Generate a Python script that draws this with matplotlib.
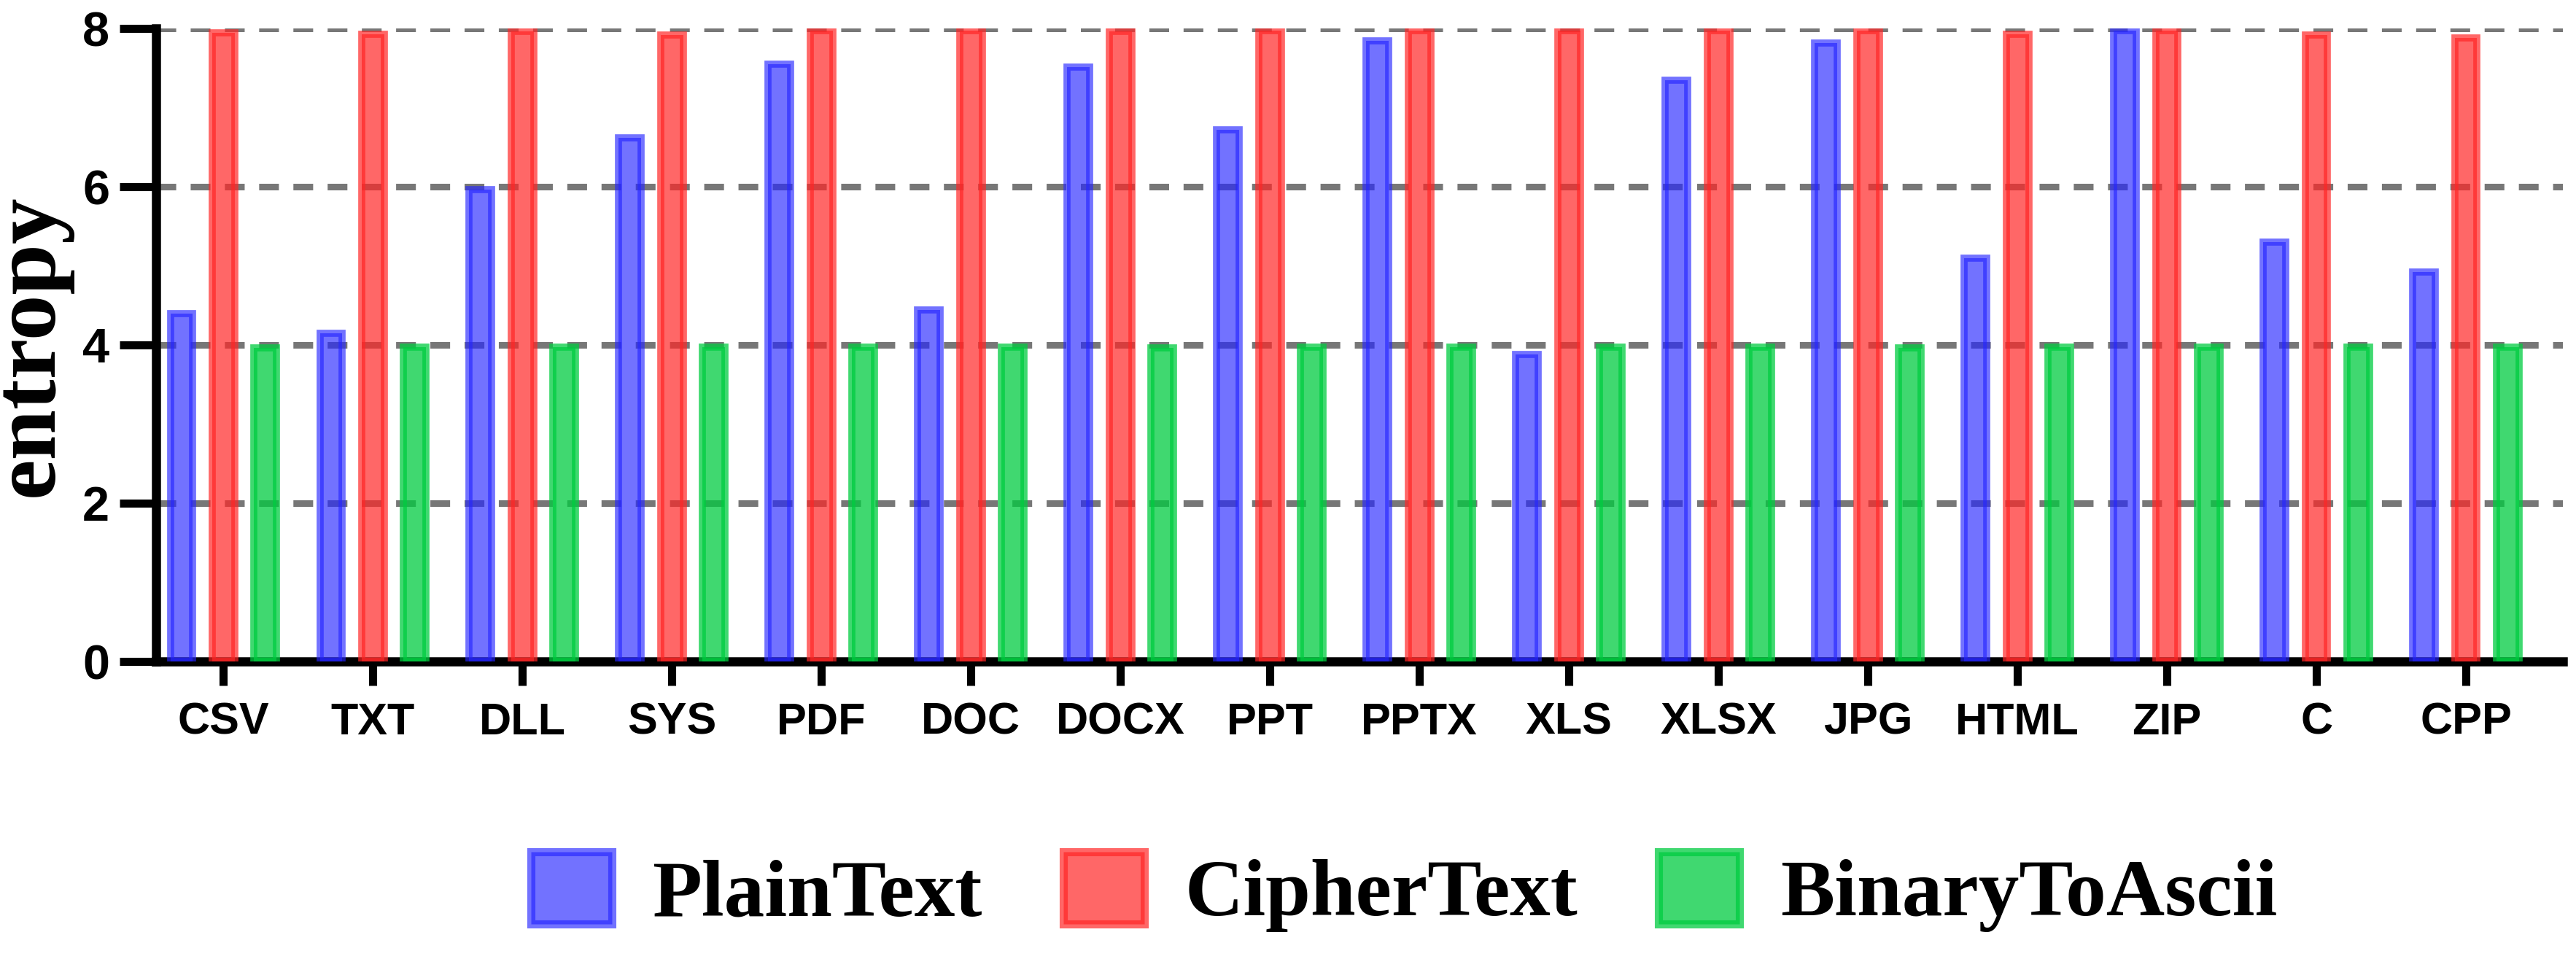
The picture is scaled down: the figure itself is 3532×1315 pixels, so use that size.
import matplotlib.pyplot as plt
import numpy as np
from matplotlib.patches import Patch

categories = ["CSV", "TXT", "DLL", "SYS", "PDF", "DOC", "DOCX", "PPT",
              "PPTX", "XLS", "XLSX", "JPG", "HTML", "ZIP", "C", "CPP"]
plain_text = [4.40, 4.15, 5.97, 6.62, 7.55, 4.45, 7.52, 6.72,
              7.85, 3.88, 7.35, 7.82, 5.10, 7.98, 5.30, 4.93]
cipher_text = [7.95, 7.93, 7.97, 7.92, 7.98, 7.98, 7.97, 7.98,
               7.98, 7.98, 7.98, 7.98, 7.93, 7.98, 7.92, 7.88]
binary_to_ascii = [3.97, 3.98, 3.98, 3.98, 3.98, 3.98, 3.97, 3.98,
                   3.98, 3.98, 3.98, 3.97, 3.98, 3.98, 3.98, 3.98]
series_names = ["PlainText", "CipherText", "BinaryToAscii"]

COLORS = [(0.15, 0.15, 1.0, 0.65), (1.0, 0.15, 0.15, 0.7), (0.0, 0.8, 0.25, 0.75)]

fig = plt.figure(figsize=(35.32, 13.15), dpi=100)
ax = fig.add_axes([0.0606, 0.31, 0.9344, 0.66])

x = np.arange(len(categories))
offset = 0.28
width = 0.15
for i, vals in enumerate([plain_text, cipher_text, binary_to_ascii]):
    ax.bar(x + (i - 1) * offset, vals, width, facecolor=COLORS[i],
           edgecolor=COLORS[i], linewidth=7, zorder=3)

ax.set_ylim(0, 8)
ax.set_xlim(-0.45, 15.65)
ax.set_yticks([0, 2, 4, 6, 8])
ax.set_xticks(x)
ax.set_xticklabels(categories, fontfamily='Liberation Sans', fontweight='bold', fontsize=44)
ax.set_yticklabels(['0', '2', '4', '6', '8'], fontfamily='Liberation Sans',
                   fontweight='bold', fontsize=48)
for y in [2, 4, 6, 8]:
    ax.axhline(y, color='#777777', linestyle=(0, (3, 2.2)), linewidth=6.5, zorder=2)

ax.tick_params(axis='x', length=24, width=8, pad=16)
ax.tick_params(axis='y', length=36, width=8, pad=10)
for s in ['top', 'right']:
    ax.spines[s].set_visible(False)
for s in ['left', 'bottom']:
    ax.spines[s].set_linewidth(9)

ax.set_ylabel("entropy", fontfamily='Liberation Serif', fontweight='bold',
              fontsize=90, labelpad=10)

handles = [Patch(facecolor=COLORS[i], edgecolor=COLORS[i], linewidth=8)
           for i in range(3)]
fig.legend(handles, series_names, loc='center', bbox_to_anchor=(0.545, 0.07),
           ncol=3, frameon=False, handlelength=1.0, handleheight=1.0,
           columnspacing=1.0, handletextpad=0.5,
           prop={'family': 'Liberation Serif', 'weight': 'bold', 'size': 80})

fig.savefig("out.png", dpi=100)
